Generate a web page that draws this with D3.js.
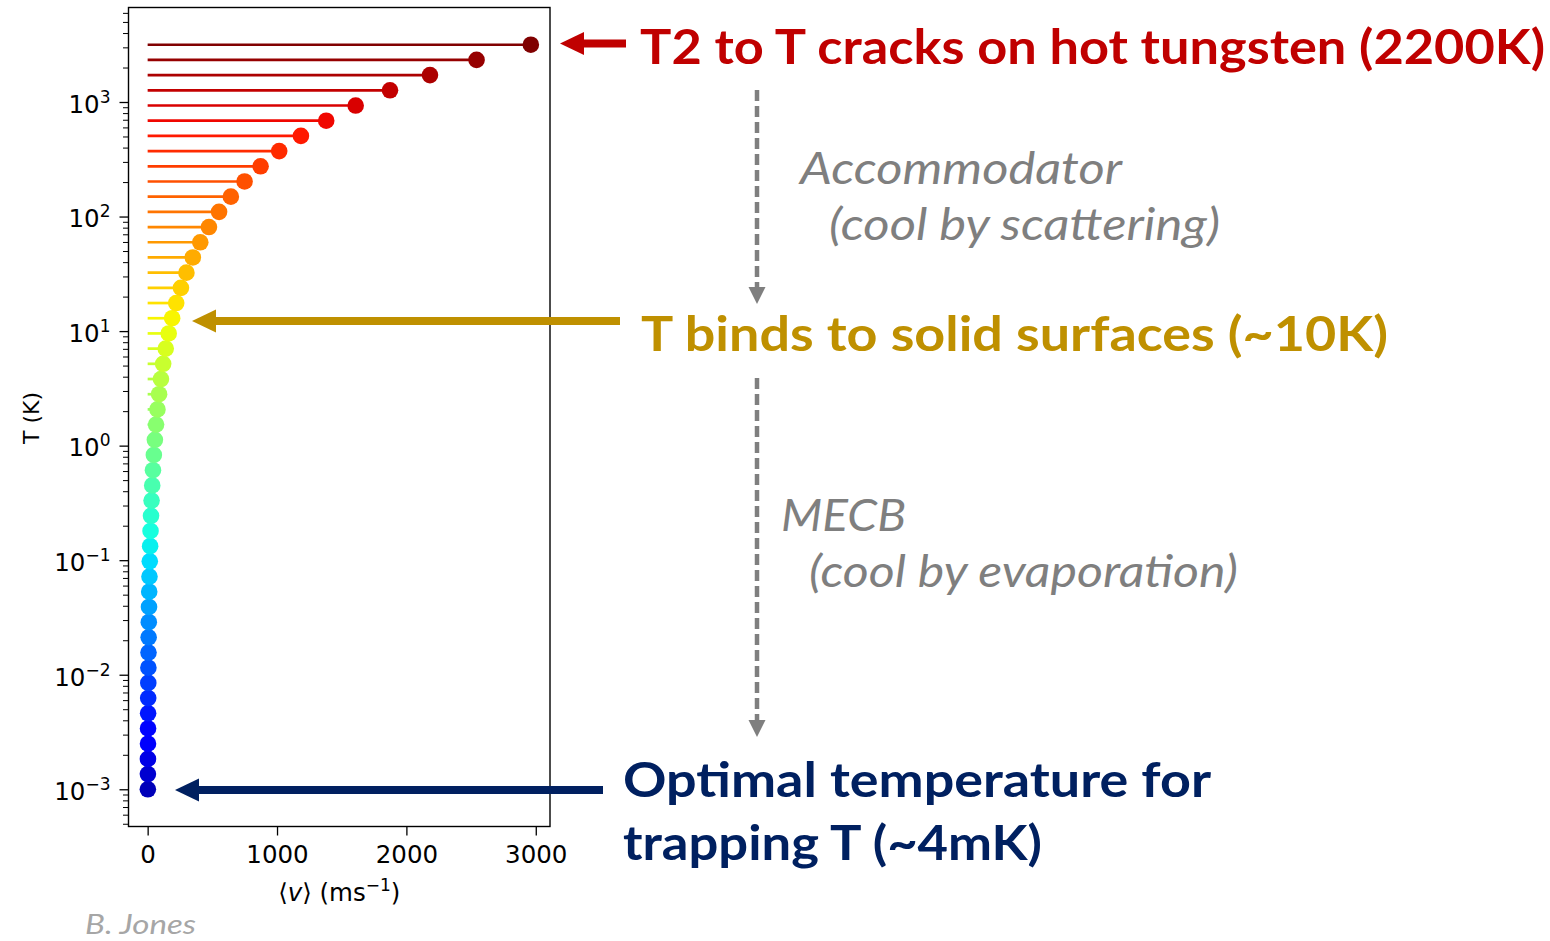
<!DOCTYPE html>
<html><head><meta charset="utf-8">
<script src="https://cdn.jsdelivr.net/npm/d3@7"></script>
<style>body{margin:0;background:#fff}</style>
</head><body><svg id="c" width="1550" height="941"></svg>
<script>
// ---- data ----
const temperatures = [0.001, 0.0013572, 0.001842, 0.0025, 0.0033932, 0.0046053, 0.0062506, 0.0084834,
  0.011514, 0.015627, 0.02121, 0.028787, 0.03907, 0.053028, 0.071969, 0.097678,
  0.13257, 0.17993, 0.24421, 0.33145, 0.44984, 0.61054, 0.82864, 1.1247,
  1.5264, 2.0717, 2.8118, 3.8163, 5.1795, 7.0297, 9.5409, 12.949,
  17.575, 23.853, 32.374, 43.94, 59.636, 80.94, 109.85, 149.1,
  202.36, 274.65, 372.76, 505.92, 686.65, 931.94, 1264.9, 1716.7, 2329.9, 3162.3];
const meanSpeeds = [1.67, 1.94, 2.26, 2.63, 3.07, 3.57, 4.16, 4.85,
  5.65, 6.58, 7.67, 8.94, 10.41, 12.13, 14.13, 16.46,
  19.18, 22.34, 26.03, 30.32, 35.33, 41.15, 47.95, 55.86,
  65.07, 75.81, 88.32, 102.9, 119.9, 139.6, 162.7, 189.5,
  220.8, 257.2, 299.7, 349.1, 406.7, 473.9, 552.0, 643.1,
  749.2, 872.9, 1016.9, 1184.7, 1380.2, 1607.9, 1873.2, 2182.3, 2542.3, 2961.9];
const xTickValues = [0, 1000, 2000, 3000];
const yTickExponents = [-3, -2, -1, 0, 1, 2, 3];
const xLabelParts = ["⟨", "v", "⟩ (ms", "−1", ")"];
const yLabel = "T (K)";
const crackText = "T2 to T cracks on hot tungsten (2200K)";
const bindText = "T binds to solid surfaces (~10K)";
const trapText = ["Optimal temperature for", "trapping T (~4mK)"];
const accomText = ["Accommodator", "(cool by scattering)"];
const mecbText = ["MECB", "(cool by evaporation)"];
const creditText = "B. Jones";

// ---- helpers ----
const jetR = d3.scaleLinear().domain([0, 0.35, 0.66, 0.89, 1]).range([0, 0, 1, 1, 0.5]).clamp(true);
const jetG = d3.scaleLinear().domain([0, 0.125, 0.375, 0.64, 0.91, 1]).range([0, 0, 1, 1, 0, 0]).clamp(true);
const jetB = d3.scaleLinear().domain([0, 0.11, 0.34, 0.65, 1]).range([0.5, 1, 1, 0, 0]).clamp(true);
function jet(t) { return d3.rgb(jetR(t) * 255, jetG(t) * 255, jetB(t) * 255).formatHex(); }

const svg = d3.select("#c");
const L = 128.5, R = 550, T = 7.5, B = 826.5;
const x = d3.scaleLinear().domain([-148, 3110]).range([L, R]);
const y = d3.scaleLog().domain([Math.pow(10, -3.325), Math.pow(10, 3.825)]).range([B, T]);

const n = temperatures.length;
const data = temperatures.map((t, i) => ({ t, v: meanSpeeds[i], c: jet(0.05 + 0.95 * i / (n - 1)) }));

// stems
svg.append("g").selectAll("line").data(data).join("line")
  .attr("x1", x(0)).attr("x2", d => x(d.v))
  .attr("y1", d => y(d.t)).attr("y2", d => y(d.t))
  .attr("stroke", d => d.c).attr("stroke-width", 2.7);
// points
svg.append("g").selectAll("circle").data(data).join("circle")
  .attr("cx", d => x(d.v)).attr("cy", d => y(d.t)).attr("r", 8.3)
  .attr("fill", d => d.c);

// frame
svg.append("rect").attr("x", L).attr("y", T).attr("width", R - L).attr("height", B - T)
  .attr("fill", "none").attr("stroke", "#000").attr("stroke-width", 1.4);

const tickFont = "'DejaVu Sans', sans-serif";
const FS = 24.5, SUP = 17;
// x axis
const gx = svg.append("g").attr("transform", `translate(0,${B})`)
  .call(d3.axisBottom(x).tickValues(xTickValues).tickSize(9).tickSizeOuter(0).tickPadding(10).tickFormat(d3.format("d")));
gx.select(".domain").remove();
gx.selectAll(".tick line").attr("stroke", "#000").attr("stroke-width", 1.3);
gx.selectAll(".tick text").attr("font-family", tickFont).attr("font-size", FS).attr("fill", "#000");

// y axis major
const majors = yTickExponents.map(k => Math.pow(10, k));
const gy = svg.append("g").attr("transform", `translate(${L},0)`)
  .call(d3.axisLeft(y).tickValues(majors).tickSize(9).tickSizeOuter(0).tickPadding(9).tickFormat(""));
gy.select(".domain").remove();
gy.selectAll(".tick line").attr("stroke", "#000").attr("stroke-width", 1.3);
gy.selectAll(".tick text").each(function (d) {
  const k = Math.round(Math.log10(d));
  const t = d3.select(this).attr("font-family", tickFont).attr("font-size", FS).attr("fill", "#000")
    .attr("dy", "0.42em");
  t.append("tspan").text("10");
  t.append("tspan").attr("font-size", SUP).attr("dy", -10).text(k < 0 ? "−" + (-k) : String(k));
});
// y axis minor
const minors = [];
for (let k = -4; k <= 3; k++) for (let m = 2; m <= 9; m++) {
  const v = m * Math.pow(10, k);
  if (v > y.domain()[0] && v < y.domain()[1]) minors.push(v);
}
const gym = svg.append("g").attr("transform", `translate(${L},0)`)
  .call(d3.axisLeft(y).tickValues(minors).tickSize(5.5).tickSizeOuter(0).tickFormat(""));
gym.select(".domain").remove();
gym.selectAll(".tick line").attr("stroke", "#000").attr("stroke-width", 1.0);

// axis labels
const xl = svg.append("text").attr("x", (L + R) / 2).attr("y", 901).attr("text-anchor", "middle")
  .attr("font-family", tickFont).attr("font-size", FS).attr("fill", "#000");
xl.append("tspan").text(xLabelParts[0]);
xl.append("tspan").attr("font-style", "italic").text(xLabelParts[1]);
xl.append("tspan").text(xLabelParts[2]);
xl.append("tspan").attr("font-size", SUP).attr("dy", -10).text(xLabelParts[3]);
xl.append("tspan").attr("dy", 10).text(xLabelParts[4]);

svg.append("text").attr("transform", "translate(39,418) rotate(-90)").attr("text-anchor", "middle")
  .attr("font-family", tickFont).attr("font-size", 22).attr("fill", "#000").text(yLabel);

// ---- annotations ----
function solidArrow(x0, x1, yy, color) { // x0 tail, x1 tip (pointing left)
  svg.append("line").attr("x1", x0).attr("x2", x1 + 20).attr("y1", yy).attr("y2", yy)
    .attr("stroke", color).attr("stroke-width", 8);
  svg.append("path").attr("d", `M${x1},${yy} L${x1 + 24},${yy - 11.5} L${x1 + 24},${yy + 11.5} Z`).attr("fill", color);
}
function dashedArrow(xx, y0, y1) { // downward
  svg.append("line").attr("x1", xx).attr("x2", xx).attr("y1", y0).attr("y2", y1 - 14)
    .attr("stroke", "#7f7f7f").attr("stroke-width", 4.5).attr("stroke-dasharray", "11,5");
  svg.append("path").attr("d", `M${xx},${y1} L${xx - 8.5},${y1 - 17} L${xx + 8.5},${y1 - 17} Z`).attr("fill", "#7f7f7f");
}
function label(txt, x0, x1, base, size, color, opts = {}) {
  svg.append("text").attr("x", x0).attr("y", base)
    .attr("font-family", "Lato, 'Open Sans', sans-serif").attr("font-size", size)
    .attr("font-weight", opts.bold ? 700 : 400).attr("font-style", opts.italic ? "italic" : "normal")
    .attr("fill", color).attr("textLength", x1 - x0).attr("lengthAdjust", "spacingAndGlyphs").text(txt);
}

solidArrow(626, 560, 43.5, "#c00000");
solidArrow(620, 192, 321, "#bf9000");
solidArrow(603, 175, 790, "#002060");
dashedArrow(757, 90, 304);
dashedArrow(757, 378, 737);

label(crackText, 640, 1545, 64, 48, "#c00000", { bold: true });
label(bindText, 641, 1388, 351, 48, "#bf9000", { bold: true });
label(trapText[0], 623, 1211, 797, 47, "#002060", { bold: true });
label(trapText[1], 623, 1042, 860, 47, "#002060", { bold: true });
label(accomText[0], 800, 1122, 184, 44, "#7f7f7f", { italic: true });
label(accomText[1], 829, 1220, 240, 44, "#7f7f7f", { italic: true });
label(mecbText[0], 781, 906, 531, 44, "#7f7f7f", { italic: true });
label(mecbText[1], 809, 1238, 587, 44, "#7f7f7f", { italic: true });
label(creditText, 85, 196, 934, 27, "#a6a6a6", { italic: true });
</script>
</body></html>
